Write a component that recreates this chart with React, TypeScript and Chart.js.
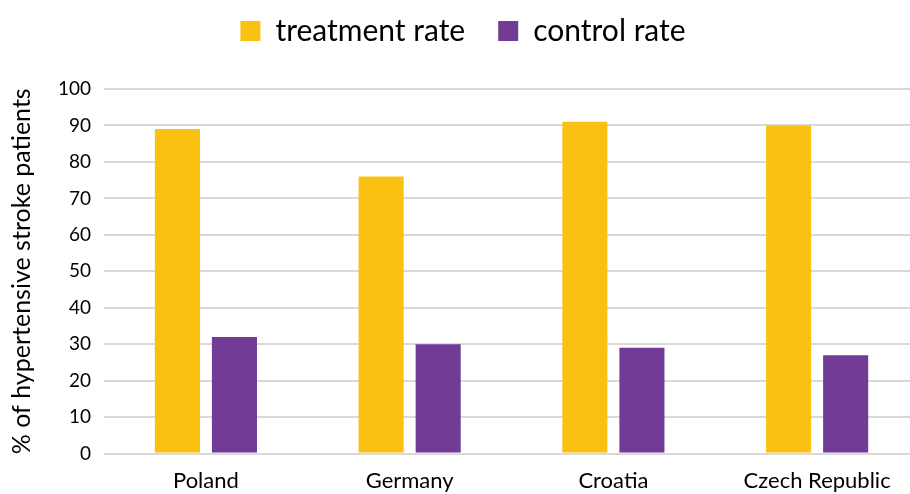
import React, { useEffect, useRef } from "react";
import { Chart, registerables } from "chart.js";

Chart.register(...registerables);

const countries = ["Poland", "Germany", "Croatia", "Czech Republic"];
const treatmentRate = [89, 76, 91, 90];
const controlRate = [32, 30, 29, 27];
const yTicks = [0, 10, 20, 30, 40, 50, 60, 70, 80, 90, 100];

const FONT = "Lato, 'Open Sans', sans-serif";

// Fix the legend block height so the plot starts lower on the canvas.
const legendHeight = {
  id: "legendHeight",
  beforeInit(chart: any) {
    const legend = chart.legend;
    if (!legend) return;
    const fit = legend.fit;
    legend.fit = function () {
      fit.call(this);
      this.height = 106;
    };
  },
};

export default function App() {
  const ref = useRef<HTMLCanvasElement | null>(null);

  useEffect(() => {
    if (!ref.current) return;
    const chart = new Chart(ref.current, {
      type: "bar",
      data: {
        labels: countries,
        datasets: [
          {
            label: "treatment rate",
            data: treatmentRate,
            backgroundColor: "#FBC112",
            categoryPercentage: 0.56,
            barPercentage: 0.79,
          },
          {
            label: "control rate",
            data: controlRate,
            backgroundColor: "#713B96",
            categoryPercentage: 0.56,
            barPercentage: 0.79,
          },
        ],
      },
      plugins: [legendHeight],
      options: {
        animation: false,
        responsive: false,
        layout: { padding: { top: -17, left: 7, right: 3, bottom: 0 } },
        plugins: {
          tooltip: { enabled: false },
          legend: {
            position: "top",
            labels: {
              boxWidth: 20,
              boxHeight: 20,
              padding: 33,
              color: "#000",
              font: { family: FONT, size: 30 },
            },
          },
        },
        scales: {
          x: {
            grid: { display: false },
            border: { display: false },
            ticks: { color: "#000", font: { family: FONT, size: 22 }, padding: 6, maxRotation: 0 },
          },
          y: {
            min: 0,
            max: 100,
            afterBuildTicks: (axis: any) => {
              axis.ticks = yTicks.map((v) => ({ value: v }));
            },
            grid: { color: "#D9D9D9", lineWidth: 2, drawTicks: false },
            border: { display: false },
            ticks: { color: "#000", font: { family: FONT, size: 19 }, padding: 13 },
            title: {
              display: true,
              text: "% of hypertensive stroke patients",
              color: "#000",
              font: { family: FONT, size: 25 },
              padding: { top: 0, bottom: 8 },
            },
          },
        },
      },
    });
    return () => chart.destroy();
  }, []);

  return (
    <div style={{ position: "fixed", left: 0, top: 0, width: 910, height: 494, overflow: "hidden", background: "#fff" }}>
      <canvas ref={ref} width={922} height={500} />
    </div>
  );
}
